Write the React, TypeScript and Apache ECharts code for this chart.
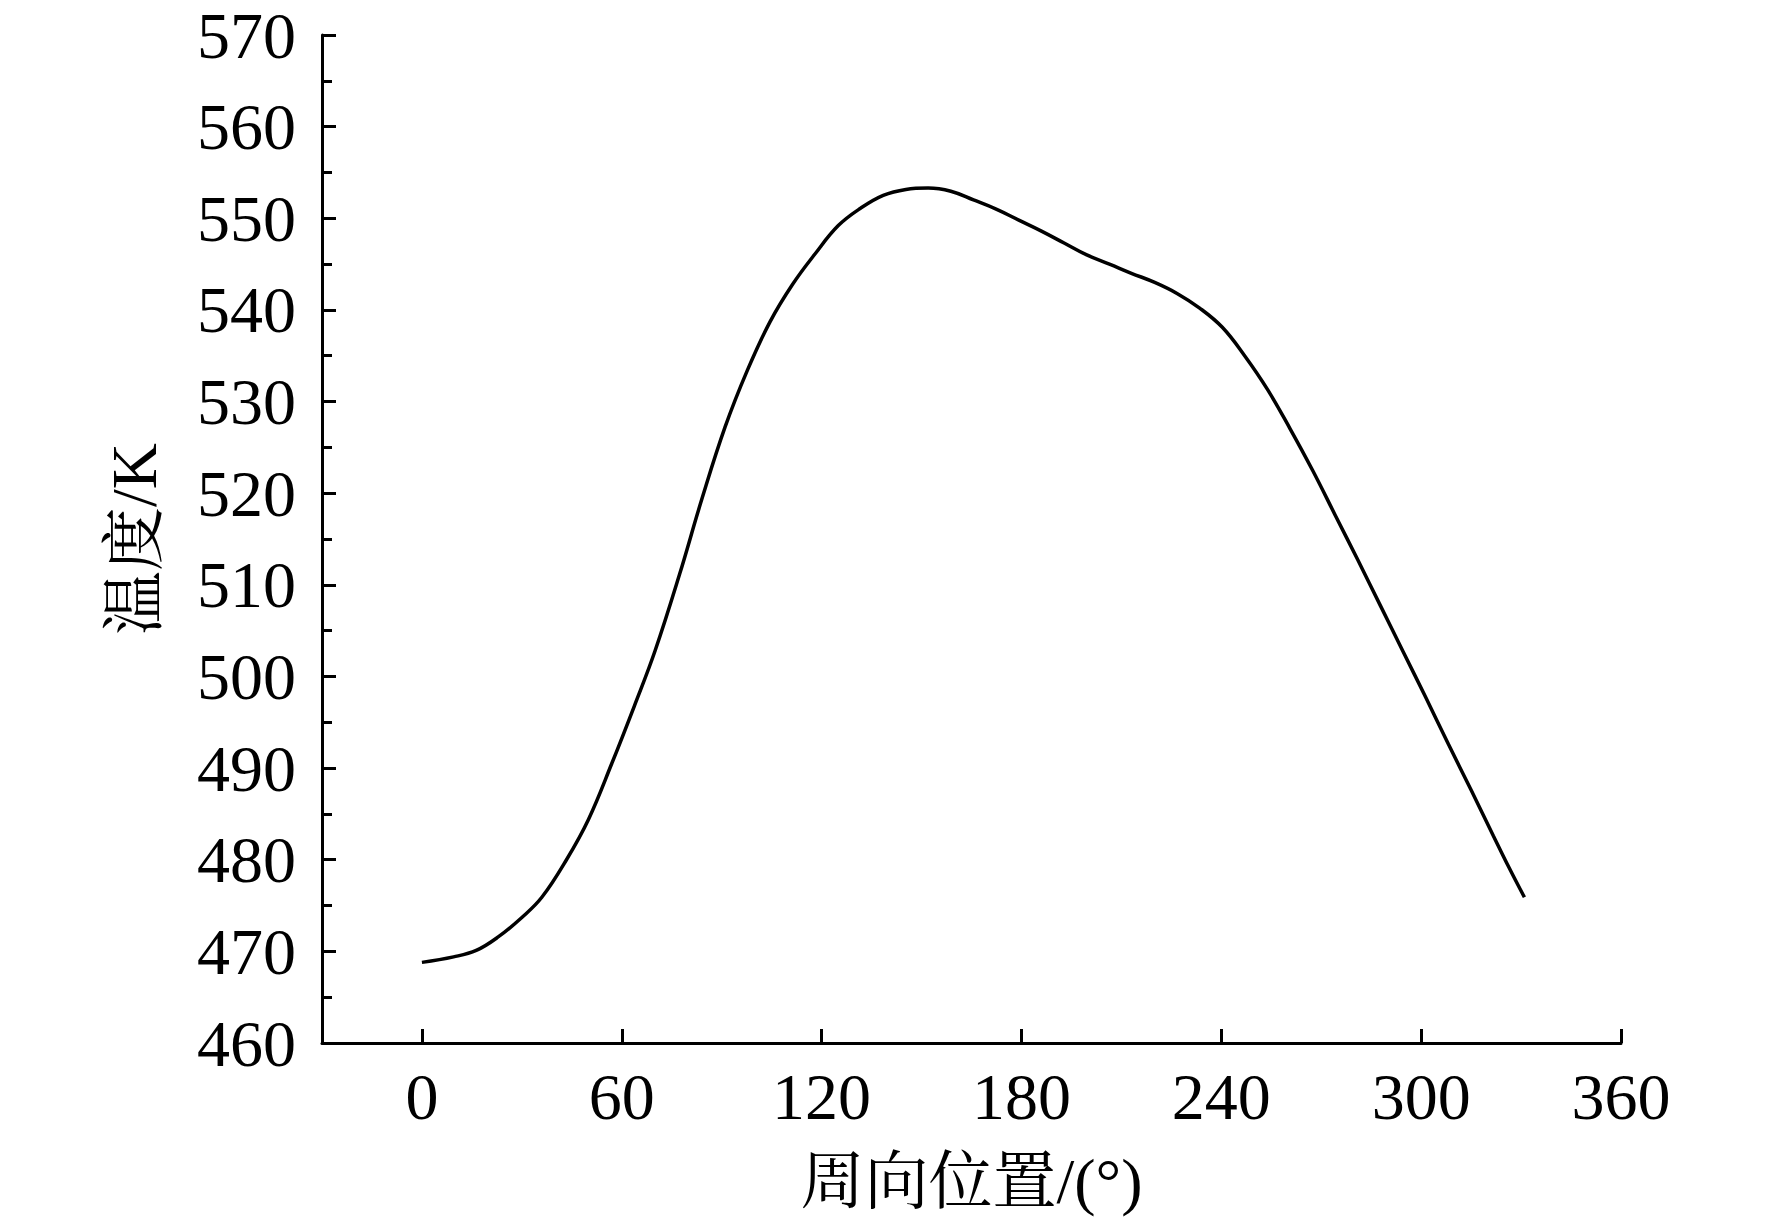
import React, { useEffect, useRef } from "react";
import * as echarts from "echarts";

const angles = [0, 9.5, 16.3, 23, 30, 36, 43.4, 50, 57, 63.8, 70, 77.4, 84, 91, 97.7, 104.5, 111.3, 118, 125, 131.7, 138.5, 145.3, 152, 158.8, 165.6, 172.4, 179.2, 186, 192.8, 199.6, 206.4, 213, 220, 226.7, 233.5, 240.3, 247, 253.9, 260.7, 267.4, 274.2, 281, 287.8, 294.6, 301.4, 308.2, 315, 321.7, 326.3, 331];
const temps = [468.8, 469.4, 470.1, 471.6, 473.7, 475.9, 480, 484.4, 490.5, 496.8, 502.8, 511.2, 519.3, 527.2, 533.4, 538.7, 542.8, 546.1, 549.2, 551.1, 552.5, 553.15, 553.3, 552.95, 552, 551, 549.8, 548.6, 547.3, 546, 545, 544, 543, 541.8, 540.2, 538.1, 535, 531.3, 527, 522.5, 517.6, 512.7, 507.7, 502.7, 497.7, 492.6, 487.6, 482.6, 479.2, 475.9];
const xTicks = [0, 60, 120, 180, 240, 300, 360];

const FONT = "'Liberation Serif', 'Times New Roman', 'Noto Serif CJK SC', 'Noto Sans CJK SC', serif";

export default function App() {
  const ref = useRef<HTMLDivElement>(null);
  useEffect(() => {
    if (!ref.current) return;
    const chart = echarts.init(ref.current, undefined, { renderer: "svg" });
    chart.setOption({
      animation: false,
      backgroundColor: "#ffffff",
      grid: { left: 322, right: 151, top: 35, bottom: 184, containLabel: false },
      xAxis: {
        type: "value",
        min: -30,
        max: 360,
        name: "周向位置/(°)",
        nameLocation: "middle",
        nameGap: 106,
        nameTextStyle: { fontFamily: FONT, fontSize: 64, color: "#000" },
        axisLine: { show: true, onZero: false, lineStyle: { color: "#000", width: 3 } },
        axisTick: { show: true, inside: true, length: 14, customValues: xTicks, lineStyle: { color: "#000", width: 3 } },
        axisLabel: { customValues: xTicks, fontFamily: FONT, fontSize: 66, color: "#000", margin: 20 },
        splitLine: { show: false },
      },
      yAxis: {
        type: "value",
        min: 460,
        max: 570,
        interval: 10,
        name: "温度/K",
        nameLocation: "middle",
        nameGap: 156,
        nameTextStyle: { fontFamily: FONT, fontSize: 64, color: "#000" },
        axisLine: { show: true, onZero: false, lineStyle: { color: "#000", width: 3 } },
        axisTick: { show: true, inside: true, length: 14, lineStyle: { color: "#000", width: 3 } },
        minorTick: { show: true, splitNumber: 2, length: 10, lineStyle: { color: "#000", width: 3 } },
        axisLabel: { fontFamily: FONT, fontSize: 66, color: "#000", margin: 26 },
        splitLine: { show: false },
      },
      series: [
        {
          type: "line",
          data: angles.map((a, i) => [a, temps[i]]),
          smooth: 0.4,
          showSymbol: false,
          lineStyle: { color: "#000", width: 3.5 },
        },
      ],
    });
    return () => chart.dispose();
  }, []);
  return <div ref={ref} style={{ position: "fixed", left: 0, top: 0, width: 1772, height: 1227, background: "#fff" }} />;
}
